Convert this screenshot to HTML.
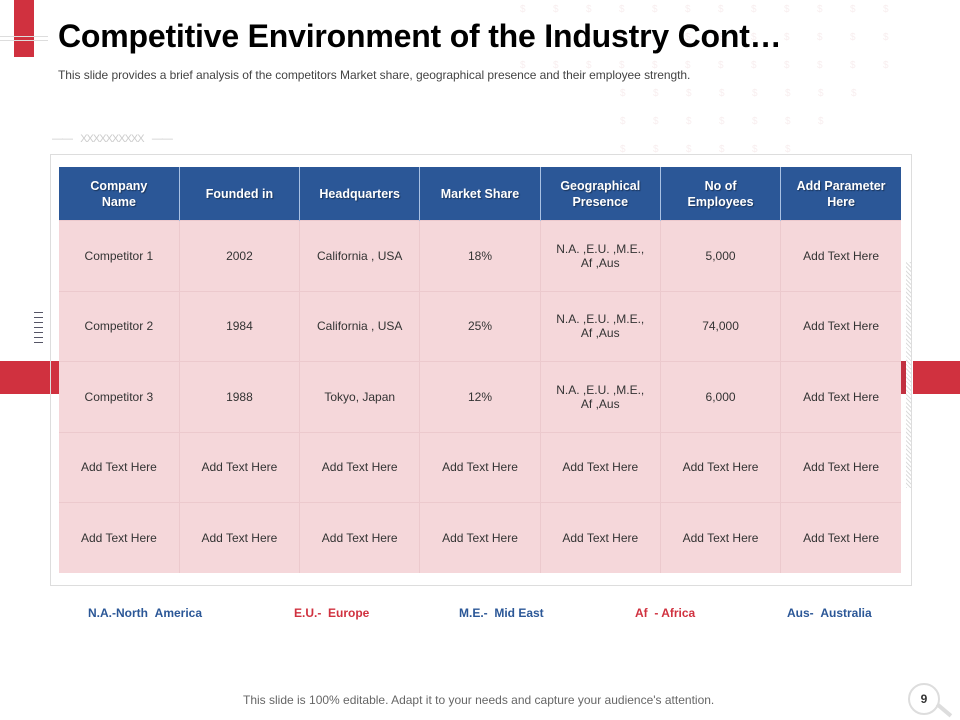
<!DOCTYPE html>
<html><head><meta charset="utf-8"><style>
body{margin:0;width:960px;height:720px;position:relative;background:#fff;font-family:"Liberation Sans",sans-serif;overflow:hidden}
.abs{position:absolute}
table{border-collapse:collapse;table-layout:fixed}
th{background:#2b5797;color:#fff;font-size:12.5px;font-weight:bold;height:53px;border-left:1px solid #a9c1e3;text-shadow:1px 1px 1px rgba(0,0,0,.4);padding:0 4px;line-height:16px}
th:first-child{border-left:none}
td{background:#f5d7da;color:#333;font-size:12px;text-align:center;height:69.5px;border-left:1px solid #ecc9cd;border-top:1px solid #ecc9cd;line-height:14px;padding:0 4px}
td:first-child{border-left:none}
.dollar{position:absolute;color:#f8eeef;font-size:10px}
.leg{position:absolute;top:606px;font-size:12px;font-weight:bold}
</style></head><body>
<div id="dollars"></div>
<div class="abs" style="left:14px;top:0;width:20px;height:57px;background:#d0313f"></div>
<div class="abs" style="left:0;top:36px;width:48px;height:3px;border-top:1px solid #ddd;border-bottom:1px solid #ddd"></div>
<div class="abs" style="left:58px;top:18px;font-size:32px;font-weight:bold;color:#000;letter-spacing:-0.2px">Competitive Environment of the Industry Cont…</div>
<div class="abs" style="left:58px;top:68px;font-size:12px;color:#444;letter-spacing:-0.05px">This slide provides a brief analysis of the competitors Market share, geographical presence and their employee strength.</div>
<div class="abs" style="left:52px;top:133px;font-size:11px;color:#ccc;letter-spacing:-1px">——&nbsp;&nbsp;&nbsp;&nbsp;XXXXXXXXXX&nbsp;&nbsp;&nbsp;&nbsp;——</div>
<div class="abs" style="left:0;top:361px;width:59px;height:33px;background:#d0313f"></div>
<div class="abs" style="left:913px;top:361px;width:47px;height:33px;background:#d0313f"></div>
<div class="abs" style="left:901px;top:361px;width:6px;height:33px;background:#c23040"></div>
<div class="abs" style="left:906px;top:262px;width:6px;height:226px;background:repeating-linear-gradient(45deg,#ddd 0 1px,#fff 1px 3px)"></div>
<div class="abs" style="left:34px;top:312px;width:9px;height:35px;background:repeating-linear-gradient(#556 0 1px,transparent 1px 5px)"></div>
<div class="abs" style="left:50px;top:154px;width:860px;height:430px;border:1px solid #ddd"></div>
<table class="abs" style="left:59px;top:167px;width:842px">
<tr><th>Company<br>Name</th><th>Founded in</th><th>Headquarters</th><th>Market Share</th><th>Geographical<br>Presence</th><th>No of<br>Employees</th><th>Add Parameter<br>Here</th></tr>
<tr><td>Competitor 1</td><td>2002</td><td>California , USA</td><td>18%</td><td>N.A. ,E.U. ,M.E.,<br>Af ,Aus</td><td>5,000</td><td>Add Text Here</td></tr>
<tr><td>Competitor 2</td><td>1984</td><td>California , USA</td><td>25%</td><td>N.A. ,E.U. ,M.E.,<br>Af ,Aus</td><td>74,000</td><td>Add Text Here</td></tr>
<tr><td>Competitor 3</td><td>1988</td><td>Tokyo, Japan</td><td>12%</td><td>N.A. ,E.U. ,M.E.,<br>Af ,Aus</td><td>6,000</td><td>Add Text Here</td></tr>
<tr><td>Add Text Here</td><td>Add Text Here</td><td>Add Text Here</td><td>Add Text Here</td><td>Add Text Here</td><td>Add Text Here</td><td>Add Text Here</td></tr>
<tr><td>Add Text Here</td><td>Add Text Here</td><td>Add Text Here</td><td>Add Text Here</td><td>Add Text Here</td><td>Add Text Here</td><td>Add Text Here</td></tr>
</table>
<div class="leg" style="left:88px;color:#2b5797">N.A.-North &nbsp;America</div>
<div class="leg" style="left:294px;color:#d0313f">E.U.- &nbsp;Europe</div>
<div class="leg" style="left:459px;color:#2b5797">M.E.- &nbsp;Mid East</div>
<div class="leg" style="left:635px;color:#d0313f">Af &nbsp;- Africa</div>
<div class="leg" style="left:787px;color:#2b5797">Aus- &nbsp;Australia</div>
<div class="abs" style="left:243px;top:693px;font-size:12px;color:#666">This slide is 100% editable. Adapt it to your needs and capture your audience's attention.</div>
<div class="abs" style="left:908px;top:683px;width:28px;height:28px;border:2px solid #ddd;border-radius:50%;text-align:center;line-height:28px;font-size:12px;font-weight:bold;color:#333">9</div>
<div class="abs" style="left:935px;top:708px;width:18px;height:4px;background:#ddd;transform:rotate(40deg)"></div>
<script>
var d=document.getElementById('dollars');
for(var r=0;r<6;r++){for(var c=0;c<12;c++){var x=520+c*33+(r>2?100:0), y=4+r*28;
if(r>=3&&c>7-r+3)continue;
var s=document.createElement('span');s.className='dollar';s.textContent='$';s.style.left=x+'px';s.style.top=y+'px';


d.appendChild(s);}}
</script>
</body></html>
